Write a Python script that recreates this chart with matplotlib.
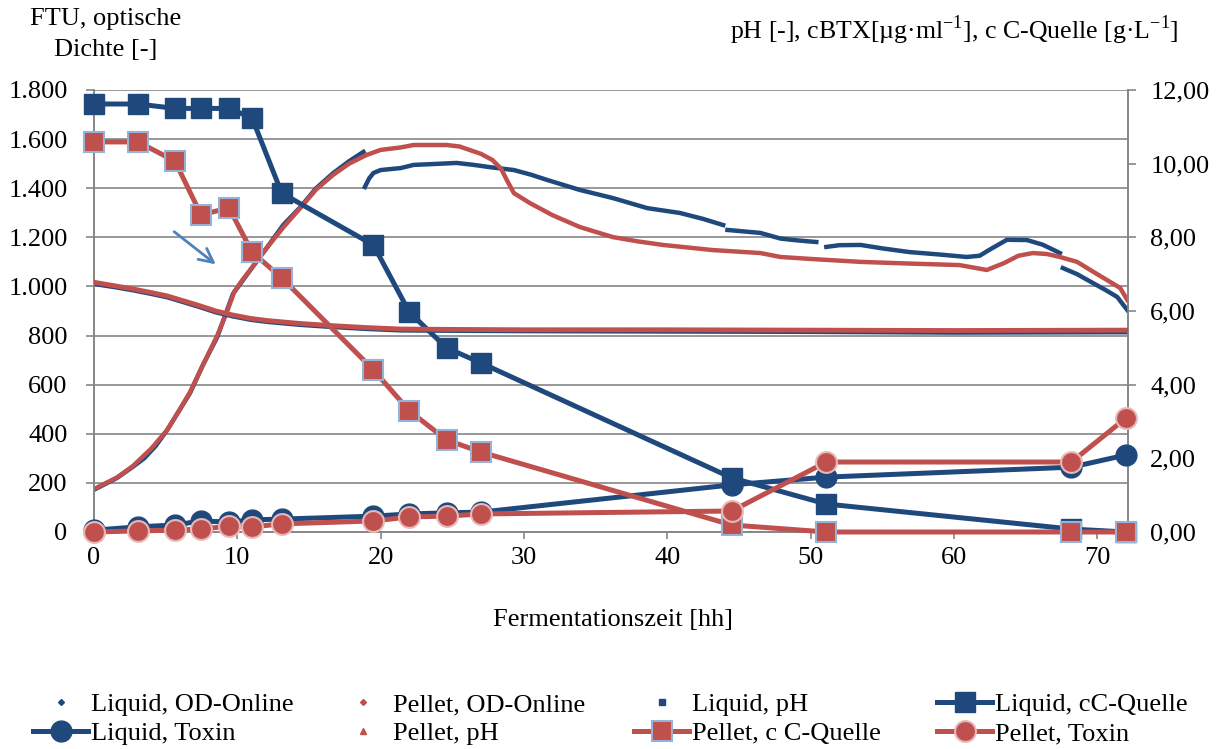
import matplotlib
matplotlib.use("Agg")
import matplotlib.pyplot as plt
from matplotlib.lines import Line2D
from matplotlib.ticker import FuncFormatter, MultipleLocator
import numpy as np

plt.rcParams["font.family"] = ["Liberation Serif", "DejaVu Serif"]
plt.rcParams["mathtext.fontset"] = "custom"
plt.rcParams["mathtext.rm"] = "Liberation Serif"
plt.rcParams["font.size"] = 19

nan = np.nan

# online OD, liquid (left axis), gaps where the record jumps
liq_od_x = [0, 1.6, 2.7, 3.5, 4.3, 5.1, 5.9, 6.7, 7.6, 8.6, 9.2, 9.7, 10.4, 11.2, 12.1, 13.2,
            14.4, 15.5, 16.7, 17.8, 18.8, nan,
            18.9, 19.2, 19.5, 20.0, 21.4, 22.3, 23.5, 25.3, 26.5, 27.6, 29.3, 30.5, 31.6, 33.9,
            36.2, 38.6, 40.9, 42.5, 43.9, nan,
            44.2, 46.5, 47.9, 49.0, 50.4, nan,
            51.1, 52.0, 53.5, 55.0, 56.9, 59.0, 60.9, 61.8, 62.5, 63.7, 65.1, 66.2, 67.4, nan,
            67.6, 68.6, 69.7, 70.6, 71.4, 72.1]
liq_od_y = [172, 220, 265, 300, 350, 415, 490, 566, 680, 794, 890, 970, 1026, 1090, 1161, 1250,
            1323, 1400, 1462, 1510, 1548, nan,
            1405, 1440, 1462, 1474, 1482, 1495, 1498, 1503, 1495, 1486, 1474, 1455, 1434, 1393,
            1360, 1319, 1299, 1275, 1250, nan,
            1230, 1218, 1195, 1188, 1181, nan,
            1161, 1168, 1169, 1155, 1140, 1130, 1120, 1125, 1150, 1190, 1189, 1170, 1136, nan,
            1075, 1050, 1014, 985, 957, 904]

# online OD, pellet (left axis)
pel_od_x = [0, 1.6, 2.7, 4.0, 5.1, 6.0, 6.7, 7.6, 8.6, 9.3, 9.8, 10.4, 11.2, 12.1, 13.2, 14.4,
            15.5, 16.7, 17.8, 19.0, 20.0, 21.4, 22.3, 24.6, 25.5, 26.2, 27.0, 27.8, 28.4, 28.8,
            29.3, 30.4, 32.0, 33.9, 36.2, 38.0, 39.7, 43.2, 46.5, 47.9, 50.0, 53.5, 57.0, 60.4,
            62.3, 63.5, 64.5, 65.5, 66.5, 67.4, 68.6, 70.0, 71.6, 72.1]
pel_od_y = [175, 222, 268, 340, 415, 500, 570, 680, 800, 900, 980, 1030, 1090, 1160, 1240, 1320,
            1395, 1455, 1500, 1535, 1556, 1566, 1576, 1576, 1570, 1556, 1540, 1515, 1480, 1434,
            1380, 1340, 1290, 1242, 1201, 1183, 1169, 1148, 1136, 1120, 1112, 1100, 1093, 1087,
            1067, 1095, 1125, 1136, 1132, 1120, 1100, 1050, 994, 945]

# pH (right axis)
ph_x = [0, 1.5, 2.7, 4.0, 5.1, 6.3, 7.4, 8.5, 9.7, 10.9, 12.1, 14.4, 16.7, 19.0, 21.4, 25, 30,
        40, 50, 60, 72]
liq_ph = [6.74, 6.65, 6.57, 6.47, 6.38, 6.24, 6.11, 5.97, 5.86, 5.77, 5.71, 5.63, 5.57, 5.52,
          5.48, 5.47, 5.46, 5.45, 5.44, 5.42, 5.43]
pel_ph = [6.78, 6.68, 6.60, 6.50, 6.41, 6.27, 6.14, 6.00, 5.89, 5.80, 5.74, 5.66, 5.60, 5.55,
          5.51, 5.50, 5.49, 5.49, 5.48, 5.47, 5.48]

# offline samples (right axis)
t = [0, 3.07, 5.65, 7.47, 9.42, 11.03, 13.1, 19.5, 22.0, 24.6, 27.0, 44.5, 51.1, 68.2, 72.0]
liq_c = [11.62, 11.62, 11.5, 11.5, 11.5, 11.24, 9.2, 7.79, 5.97, 5.0, 4.59, 1.47, 0.76, 0.08, 0.0]
pel_c = [10.59, 10.59, 10.07, 8.61, 8.80, 7.60, 6.90, 4.40, 3.29, 2.50, 2.17, 0.19, 0.0, 0.0, 0.0]
liq_tox = [0.05, 0.14, 0.19, 0.30, 0.27, 0.33, 0.35, 0.43, 0.49, 0.52, 0.54, 1.28, 1.49, 1.76, 2.09]
pel_tox = [0.0, 0.03, 0.05, 0.08, 0.16, 0.14, 0.22, 0.30, 0.41, 0.43, 0.49, 0.57, 1.90, 1.90, 3.09]

blue = "#1F497D"
red = "#C0504D"
grid = "#868686"

fig = plt.figure(figsize=(12.2, 7.49), dpi=100)
ax = fig.add_axes([94 / 1220, 1 - 532 / 749, (1128 - 94) / 1220, 442 / 749])
ax2 = ax.twinx()

ax.plot(liq_od_x, liq_od_y, color=blue, lw=3.2, zorder=3)
ax.plot(pel_od_x, pel_od_y, color=red, lw=3.2, zorder=4)

ax2.plot(ph_x, liq_ph, color=blue, lw=3.5, zorder=2)
l_c, = ax2.plot(t, liq_c, color=blue, lw=3.6, marker="s", ms=15, mec=blue,
                label="Liquid, cC-Quelle", clip_on=False, zorder=3)
l_t, = ax2.plot(t, liq_tox, color=blue, lw=3.6, marker="o", ms=15, mec=blue,
                label="Liquid, Toxin", clip_on=False, zorder=4)
ax2.plot(ph_x, pel_ph, color=red, lw=3.5, zorder=5)
p_c, = ax2.plot(t, pel_c, color=red, lw=3.6, marker="s", ms=15, mec="#95B3D7", mew=1.5,
                label="Pellet, c C-Quelle", clip_on=False, zorder=6)
p_t, = ax2.plot(t, pel_tox, color=red, lw=3.6, marker="o", ms=15, mec="#E6B9B8", mew=1.5,
                label="Pellet, Toxin", clip_on=False, zorder=7)

ax.annotate("", xy=(8.65, 1083), xytext=(5.44, 1230),
            arrowprops=dict(arrowstyle="->", color="#4F81BD", lw=2, mutation_scale=25))

ax.set_xlim(0, 72.15)
ax.set_ylim(0, 1800)
ax2.set_ylim(0, 12)
ax.xaxis.set_major_locator(MultipleLocator(10))
ax.yaxis.set_major_locator(MultipleLocator(200))
ax2.yaxis.set_major_locator(MultipleLocator(2))
ax.yaxis.set_major_formatter(FuncFormatter(lambda v, p: f"{int(v):,}".replace(",", ".")))
ax2.yaxis.set_major_formatter(FuncFormatter(lambda v, p: f"{v:.2f}".replace(".", ",")))
ax.grid(axis="y", color=grid, lw=1.2)
ax.set_axisbelow(True)

for a in (ax, ax2):
    a.spines["top"].set_visible(False)
    for s in ("left", "right", "bottom"):
        a.spines[s].set_color(grid)
        a.spines[s].set_linewidth(1.2)
ax.tick_params(axis="x", direction="out", length=5, color=grid, width=1.2, pad=6)
ax.tick_params(axis="y", direction="out", length=6, color=grid, width=1.2, pad=13)
ax2.tick_params(axis="y", direction="out", length=6, color=grid, width=1.2, pad=10)

fig.text(106 / 1220, 1 - 19 / 749, "FTU, optische", ha="center", va="center")
fig.text(106 / 1220, 1 - 50 / 749, "Dichte [-]", ha="center", va="center")
fig.text(1178 / 1220, 1 - 30 / 749,
         r"pH [-], cBTX[µg·ml$^{\mathrm{-1}}$], c C-Quelle [g·L$^{\mathrm{-1}}$]",
         ha="right", va="center", fontsize=18.6)
fig.text(613 / 1220, 1 - 620 / 749, "Fermentationszeit [hh]", ha="center", va="center")

h_lod = Line2D([], [], color=blue, marker="D", ms=3, ls="none", label="Liquid, OD-Online")
h_pod = Line2D([], [], color=red, marker="D", ms=3, ls="none", label="Pellet, OD-Online")
h_lph = Line2D([], [], color=blue, marker="s", ms=5, ls="none", label="Liquid, pH")
h_pph = Line2D([], [], color=red, marker="^", ms=4, ls="none", label="Pellet, pH")

# Excel-like legend: four evenly spaced columns
columns = [[h_lod, l_t], [h_pod, h_pph], [h_lph, p_c], [l_c, p_t]]
text_x = [91, 393, 692, 995]
for col, tx in zip(columns, text_x):
    fig.legend(handles=col, labels=[h.get_label() for h in col], loc="center left",
               bbox_to_anchor=((tx - 58) / 1220, 1 - 719 / 749), frameon=False,
               borderpad=0, borderaxespad=0, handlelength=2.1, handletextpad=0.1,
               labelspacing=0.2, fontsize=19)

fig.savefig("out.png", dpi=100)
